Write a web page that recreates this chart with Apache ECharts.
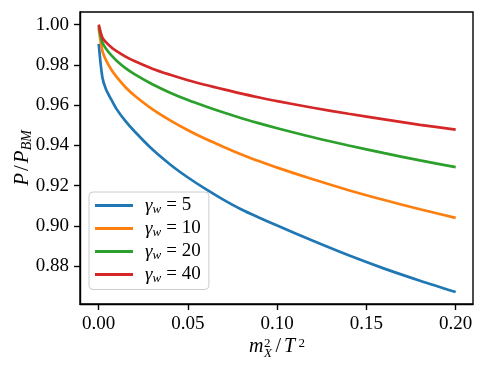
<!DOCTYPE html>
<html>
<head>
<meta charset="utf-8">
<script src="https://cdn.jsdelivr.net/npm/echarts@6/dist/echarts.min.js"></script>
<style>
  html, body { margin: 0; padding: 0; background: #fff; }
  #chart { width: 486px; height: 372px; }
</style>
</head>
<body>
<div id="chart"></div>
<script>
// m_X^2 / T^2
var xVals = [0, 0.002, 0.004, 0.007, 0.01, 0.015, 0.02, 0.03, 0.04, 0.05,
             0.06, 0.07, 0.08, 0.09, 0.1, 0.12, 0.14, 0.16, 0.18, 0.2];

// P / P_BM for each gamma_w
var gamma5  = [0.9905, 0.9740, 0.9680, 0.9628, 0.9580, 0.9520, 0.9470, 0.9380, 0.9305, 0.9240,
               0.9182, 0.9129, 0.9081, 0.9040, 0.9001, 0.8925, 0.8853, 0.8787, 0.8727, 0.8671];
var gamma10 = [0.9982, 0.9871, 0.9825, 0.9777, 0.9740, 0.9689, 0.9648, 0.9580, 0.9524, 0.9475,
               0.9431, 0.9392, 0.9355, 0.9321, 0.9289, 0.9231, 0.9177, 0.9128, 0.9082, 0.9039];
var gamma20 = [0.9992, 0.9912, 0.9882, 0.9848, 0.9821, 0.9784, 0.9754, 0.9704, 0.9662, 0.9625,
               0.9593, 0.9563, 0.9535, 0.9509, 0.9485, 0.9440, 0.9399, 0.9361, 0.9325, 0.9292];
var gamma40 = [1.0000, 0.9936, 0.9913, 0.9888, 0.9868, 0.9841, 0.9819, 0.9781, 0.9751, 0.9724,
               0.9700, 0.9678, 0.9657, 0.9638, 0.9620, 0.9587, 0.9557, 0.9529, 0.9502, 0.9478];

var gammas = ['5', '10', '20', '40'];
var colors = ['#1f77b4', '#ff7f0e', '#2ca02c', '#d62728'];

var xTicks = [0, 0.05, 0.1, 0.15, 0.2];
var yTicks = [0.88, 0.90, 0.92, 0.94, 0.96, 0.98, 1.00];

var serif = '"Liberation Serif", "DejaVu Serif", serif';

function pairs(ys) {
    var out = [];
    for (var i = 0; i < xVals.length; i++) {
        out.push([xVals[i], ys[i]]);
    }
    return out;
}

var allY = [gamma5, gamma10, gamma20, gamma40];

var option = {
    animation: false,
    backgroundColor: '#fff',
    color: colors,
    grid: {
        left: 80, right: 13, top: 12, bottom: 68,
        show: true,
        borderColor: '#000',
        borderWidth: 1.4,
        backgroundColor: 'transparent'
    },
    xAxis: {
        type: 'value',
        min: -0.0105,
        max: 0.2097,
        axisLine: { show: true, onZero: false, lineStyle: { color: '#000', width: 1.4 } },
        axisTick: { show: true, inside: false, length: 6, customValues: xTicks,
                    lineStyle: { color: '#000', width: 1.4 } },
        axisLabel: {
            customValues: xTicks,
            margin: 11,
            color: '#000',
            fontFamily: serif,
            fontSize: 19,
            formatter: function (v) { return v.toFixed(2); }
        },
        splitLine: { show: false }
    },
    yAxis: {
        type: 'value',
        min: 0.8611,
        max: 1.0063,
        axisLine: { show: true, onZero: false, lineStyle: { color: '#000', width: 1.4 } },
        axisTick: { show: true, inside: false, length: 6, customValues: yTicks,
                    lineStyle: { color: '#000', width: 1.4 } },
        axisLabel: {
            customValues: yTicks,
            margin: 11,
            color: '#000',
            fontFamily: serif,
            fontSize: 19,
            formatter: function (v) { return v.toFixed(2); }
        },
        splitLine: { show: false }
    },
    legend: {
        orient: 'vertical',
        left: 89,
        top: 192,
        padding: [4, 8, 4, 6],
        itemWidth: 38,
        itemHeight: 3,
        itemGap: 2.5,
        icon: 'rect',
        backgroundColor: 'rgba(255,255,255,0.8)',
        borderColor: '#cccccc',
        borderWidth: 1,
        borderRadius: 4,
        formatter: function (name) {
            return '{g|γ}{s|w}{e|=}{t|' + name.slice(5) + '}';
        },
        textStyle: {
            color: '#000',
            rich: {
                g: { fontFamily: serif, fontStyle: 'italic', fontSize: 19, lineHeight: 22, padding: [0, 0, 0, 7] },
                s: { fontFamily: serif, fontStyle: 'italic', fontSize: 13, lineHeight: 14, verticalAlign: 'bottom' },
                e: { fontFamily: serif, fontSize: 19, lineHeight: 22, padding: [0, 5, 0, 5] },
                t: { fontFamily: serif, fontSize: 19, lineHeight: 22 }
            }
        },
        data: gammas.map(function (g) { return 'γw = ' + g; })
    },
    series: gammas.map(function (g, i) {
        return {
            name: 'γw = ' + g,
            type: 'line',
            showSymbol: false,
            symbol: 'none',
            smooth: 0.3,
            lineStyle: { width: 2.7, color: colors[i] },
            itemStyle: { color: colors[i] },
            data: pairs(allY[i])
        };
    }),
    graphic: [
        {
            // y axis label: P / P_BM
            type: 'text',
            x: 22,
            y: 158,
            rotation: Math.PI / 2,
            style: {
                text: '{i|P}{n|/}{i|P}{s|BM}',
                align: 'center',
                verticalAlign: 'middle',
                fill: '#000',
                rich: {
                    i: { fontFamily: serif, fontStyle: 'italic', fontSize: 21, lineHeight: 24 },
                    n: { fontFamily: serif, fontSize: 21, lineHeight: 24, padding: [0, 2, 0, 2] },
                    s: { fontFamily: serif, fontStyle: 'italic', fontSize: 14, lineHeight: 15, verticalAlign: 'bottom' }
                }
            }
        },
        {
            // x axis label: m_X^2 / T^2
            type: 'group',
            x: 249,
            y: 346.5,
            children: [
                { type: 'text', x: 0, y: 0, style: { text: 'm', font: 'italic 20px ' + serif, fill: '#000', align: 'left', verticalAlign: 'middle' } },
                { type: 'text', x: 15, y: -3, style: { text: '2', font: '13px ' + serif, fill: '#000', align: 'left', verticalAlign: 'middle' } },
                { type: 'text', x: 15, y: 7.5, style: { text: 'X', font: 'italic 13px ' + serif, fill: '#000', align: 'left', verticalAlign: 'middle' } },
                { type: 'text', x: 26.5, y: 0, style: { text: '/', font: '20px ' + serif, fill: '#000', align: 'left', verticalAlign: 'middle' } },
                { type: 'text', x: 35, y: 0, style: { text: 'T', font: 'italic 20px ' + serif, fill: '#000', align: 'left', verticalAlign: 'middle' } },
                { type: 'text', x: 49.5, y: -3, style: { text: '2', font: '13px ' + serif, fill: '#000', align: 'left', verticalAlign: 'middle' } }
            ]
        }
    ]
};

var myChart = echarts.init(document.getElementById('chart'));
myChart.setOption(option);
</script>
</body>
</html>
